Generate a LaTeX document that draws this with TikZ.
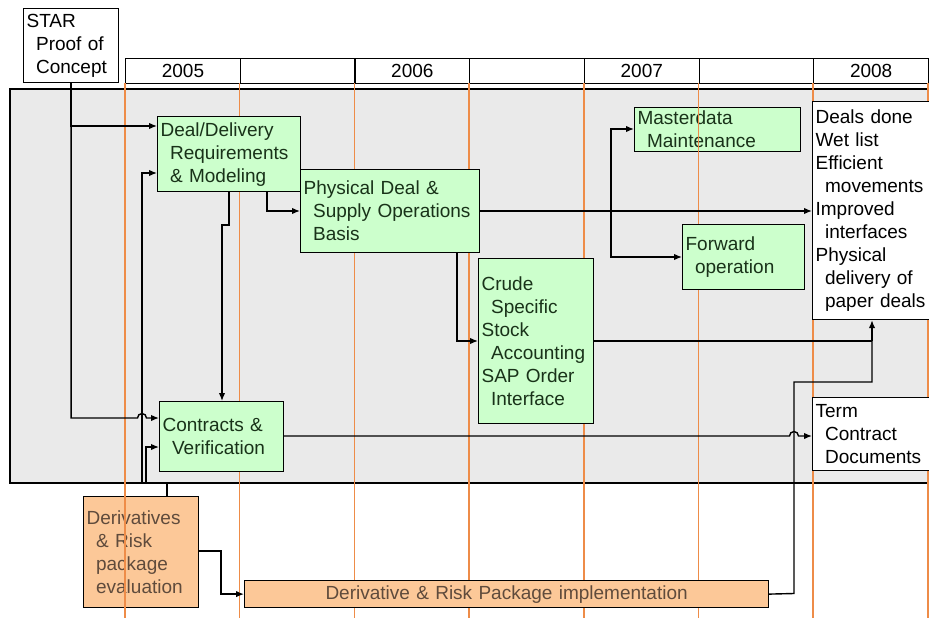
\documentclass[tikz,border=0pt]{standalone}
\usepackage{fontspec}
\setmainfont{Liberation Sans}
\usetikzlibrary{arrows.meta}

\definecolor{boxgreen}{RGB}{204,255,204}
\definecolor{boxorange}{RGB}{252,200,152}
\definecolor{panelgray}{RGB}{234,234,234}
\definecolor{yearorange}{RGB}{238,140,72}
\definecolor{greentext}{RGB}{25,50,25}
\definecolor{orangetext}{RGB}{95,75,60}

% indentation of wrapped lines inside the boxes
\newcommand{\subline}{\hspace*{9.5pt}}

\begin{document}
\begin{tikzpicture}[x=1pt,y=-1pt,
  every node/.style={font=\fontsize{19}{23}\selectfont},
  stagebox/.style={draw=black, line width=1.2pt, anchor=north west,
    inner xsep=3pt, inner ysep=0pt, align=left},
  greenbox/.style={stagebox, fill=boxgreen, text=greentext},
  orangebox/.style={stagebox, fill=boxorange, text=orangetext},
  whitebox/.style={stagebox, fill=white, text=black},
  yearcell/.style={draw=black, line width=1.2pt, anchor=north west,
    minimum width=114.7pt, minimum height=25pt, inner sep=0pt},
  yearline/.style={draw=yearorange, line width=1.5pt},
  panel/.style={fill=panelgray, draw=black, line width=1.2pt},
  link/.style={draw=black, line width=1.4pt},
  arr/.style={link, -{Latex[length=8pt,width=6.5pt]}},
]
\useasboundingbox (0,0) rectangle (929,618);

% year header
\foreach \i/\yr in {0/2005,1/,2/2006,3/,4/2007,5/,6/2008}
  \node[yearcell] (cell\i) at ({125+\i*114.7},58) {\yr};

% project start box
\node[whitebox, minimum width=95pt, text width=89pt, minimum height=74pt]
  (star) at (23,8) {STAR\\\subline Proof of\\\subline Concept};

% shaded project area
\draw[panel] (10,89) rectangle (935,483);

% boxes lying under the year lines
\node[orangebox, minimum width=115pt, text width=109pt, minimum height=111pt]
  (evalbox) at (83,496) {Derivatives\\\subline\& Risk\\\subline package\\\subline evaluation};
\node[greenbox, minimum width=166pt, text width=160pt, minimum height=44pt]
  (master) at (634,107) {Masterdata\\\subline Maintenance};

% half-year lines
\foreach \i in {0,...,7}
  \draw[yearline] ({125+\i*114.7},83) -- ({125+\i*114.7},618);

% project stages
\node[greenbox, minimum width=143pt, text width=137pt, minimum height=75pt]
  (deal) at (157,116) {Deal/Delivery\\\subline Requirements\\\subline\& Modeling};
\node[greenbox, minimum width=179pt, text width=173pt, minimum height=83pt]
  (physical) at (300,169) {Physical Deal \&\\\subline Supply Operations\\\subline Basis};
\node[greenbox, minimum width=115pt, text width=109pt, minimum height=165pt]
  (crude) at (478,258) {Crude\\\subline Specific\\Stock\\\subline Accounting\\SAP Order\\\subline Interface};
\node[greenbox, minimum width=122pt, text width=116pt, minimum height=65pt]
  (forward) at (682,224) {Forward\\\subline operation};
\node[greenbox, minimum width=124pt, text width=118pt, minimum height=70pt]
  (contracts) at (159,401) {Contracts \&\\\subline Verification};
\node[whitebox, minimum width=123pt, text width=117pt, minimum height=218pt]
  (results) at (812,101) {Deals done\\Wet list\\Efficient\\\subline movements\\Improved\\\subline interfaces\\Physical\\\subline delivery of\\\subline paper deals};
\node[whitebox, minimum width=123pt, text width=117pt, minimum height=73pt]
  (term) at (812,397) {Term\\\subline Contract\\\subline Documents};
\node[orangebox, minimum width=524pt, text width=518pt, minimum height=27pt, align=center]
  (impl) at (244,580) {Derivative \& Risk Package implementation};

% junctions
\coordinate (jn) at (167,483);
\coordinate (split) at (611,211);
\coordinate (merge) at (872,341);

% connectors
\draw[arr] (star.south) |- (deal.west |- 0,126);
\draw[arr] (star.south) -- (star.south |- 0,418) -- (137.5,418)
  arc[start angle=180, end angle=0, radius=4.5pt] -- (contracts.west |- 0,418);
\draw[link] (evalbox.north -| jn) -- (jn);
\draw[arr] (jn) -- (142,483) -- (142,173) -- (deal.west |- 0,173);
\draw[arr] (jn) -- (146,483) -- (146,447) -- (contracts.west |- 0,447);
\draw[arr] (deal.south -| 229,0) -- (229,225) -- (222,225) -- (contracts.north -| 222,0);
\draw[arr] (deal.south -| 267,0) |- (physical.west |- 0,211);
\draw[arr] (physical.east |- 0,211) -- (results.west |- 0,211);
\draw[arr] (split) |- (master.west |- 0,129);
\draw[arr] (split) |- (forward.west |- 0,257);
\draw[arr] (physical.south -| 457,0) |- (crude.west |- 0,341);
\draw[link] (crude.east |- 0,341) -- (merge);
\draw[arr] (merge) -- (results.south -| merge);
\draw[link] (impl.east) -- (794,593.5) -- (794,382) -- (872,382) -- (merge);
\draw[arr] (contracts.east |- 0,436) -- (789.5,436)
  arc[start angle=180, end angle=0, radius=4.5pt] -- (term.west |- 0,436);
\draw[arr] (evalbox.east |- 0,551) -- (221,551) |- (impl.west);
\end{tikzpicture}
\end{document}
